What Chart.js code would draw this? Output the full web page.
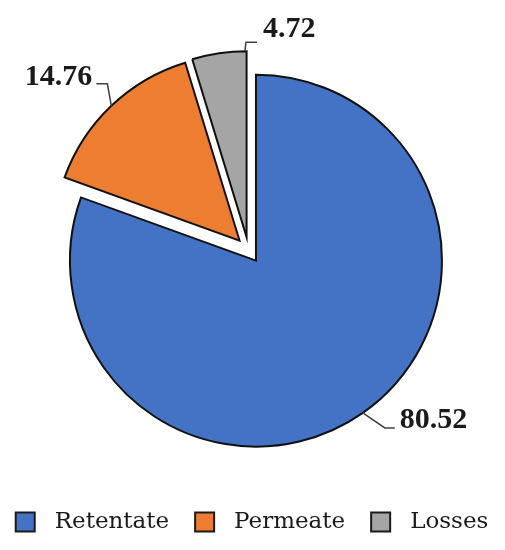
<!DOCTYPE html>
<html><head><meta charset="utf-8">
<script src="https://cdn.jsdelivr.net/npm/chart.js@4.4.1/dist/chart.umd.min.js"></script>
<style>html,body{margin:0;padding:0;background:#fff}#wrap{width:505px;height:550px}</style>
</head><body><div id="wrap"><canvas id="c" width="505" height="550"></canvas></div>
<script>
const categories = ['Retentate', 'Permeate', 'Losses'];
const values = [80.52, 14.76, 4.72];
const valueLabels = ['80.52', '14.76', '4.72'];
const colors = ['#4472C4', '#ED7D31', '#A5A5A5'];

const explodePlugin = {
  id: 'explode',
  afterDatasetsUpdate(chart, args, opts) {
    const meta = chart.getDatasetMeta(0);
    meta.data.forEach(arc => {
      const mid = (arc.startAngle + arc.endAngle) / 2;
      arc.x += Math.cos(mid) * opts.distance;
      arc.y += Math.sin(mid) * opts.distance;
    });
  }
};

const leaderLabels = {
  id: 'leaderLabels',
  afterDatasetsDraw(chart, args, opts) {
    const ctx = chart.ctx;
    const meta = chart.getDatasetMeta(0);
    ctx.save();
    meta.data.forEach((arc, i) => {
      const s = opts.items[i];
      const ang = arc.startAngle + (arc.endAngle - arc.startAngle) * s.anchor;
      const ax = arc.x + Math.cos(ang) * arc.outerRadius;
      const ay = arc.y + Math.sin(ang) * arc.outerRadius;
      const ex = ax + s.elbow[0], ey = ay + s.elbow[1];
      const tx = ex + s.tail;
      ctx.beginPath();
      ctx.moveTo(ax, ay); ctx.lineTo(ex, ey); ctx.lineTo(tx, ey);
      ctx.strokeStyle = opts.lineColor; ctx.lineWidth = opts.lineWidth;
      ctx.lineJoin = 'miter';
      ctx.stroke();
      ctx.font = opts.font;
      ctx.fillStyle = opts.color;
      ctx.textBaseline = 'alphabetic';
      if (s.tail >= 0) { ctx.textAlign = 'left'; ctx.fillText(valueLabels[i], tx + s.gap, ey + s.dy); }
      else { ctx.textAlign = 'right'; ctx.fillText(valueLabels[i], tx - s.gap, ey + s.dy); }
    });
    ctx.restore();
  }
};

const customLegend = {
  id: 'customLegend',
  afterDraw(chart, args, opts) {
    const ctx = chart.ctx;
    ctx.save();
    ctx.font = opts.font;
    const widths = categories.map(c => ctx.measureText(c).width);
    let total = 0;
    widths.forEach((w, i) => { total += opts.box + opts.boxGap + w + (i < widths.length - 1 ? opts.itemGap : 0); });
    let x = opts.centerX - total / 2;
    categories.forEach((c, i) => {
      ctx.fillStyle = colors[i];
      ctx.fillRect(x, opts.y - opts.box / 2, opts.box, opts.box);
      ctx.strokeStyle = opts.boxBorder; ctx.lineWidth = 2;
      ctx.strokeRect(x, opts.y - opts.box / 2, opts.box, opts.box);
      ctx.fillStyle = opts.color;
      ctx.textAlign = 'left'; ctx.textBaseline = 'alphabetic';
      ctx.fillText(c, x + opts.box + opts.boxGap, opts.y + opts.baseline);
      x += opts.box + opts.boxGap + widths[i] + opts.itemGap;
    });
    ctx.restore();
  }
};

new Chart(document.getElementById('c'), {
  type: 'pie',
  data: {
    labels: categories,
    datasets: [{
      data: values,
      backgroundColor: colors,
      borderColor: '#111111',
      borderWidth: 2,
      borderJoinStyle: 'miter'
    }]
  },
  options: {
    responsive: false,
    animation: false,
    radius: 186,
    layout: { padding: { left: 0, right: 8, top: 0, bottom: 50 } },
    plugins: {
      legend: { display: false },
      tooltip: { enabled: false },
      explode: { distance: 13 },
      leaderLabels: {
        font: 'bold 30px "Liberation Serif"',
        color: '#1a1a1a',
        lineColor: '#404040',
        lineWidth: 1.5,
        items: [
          { anchor: 0.5, elbow: [22, 15], tail: 10, gap: 5, dy: 0 },
          { anchor: 0.5, elbow: [-4, -22], tail: -11, gap: 4, dy: 1 },
          { anchor: 0.97, elbow: [1, -9], tail: 11, gap: 6, dy: -5 }
        ]
      },
      customLegend: {
        font: '23px "DejaVu Serif"',
        color: '#1a1a1a',
        boxBorder: '#1a1a1a',
        box: 19, boxGap: 20, itemGap: 26,
        centerX: 252, y: 522, baseline: 6
      }
    }
  },
  plugins: [explodePlugin, leaderLabels, customLegend]
});
</script>
</body></html>
